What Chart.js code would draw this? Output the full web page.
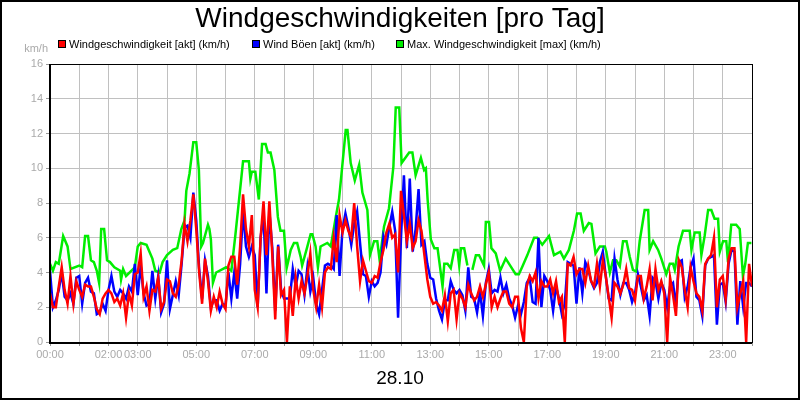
<!DOCTYPE html>
<html><head><meta charset="utf-8">
<script src="https://cdn.jsdelivr.net/npm/chart.js@4/dist/chart.umd.min.js"></script>
<style>html,body{margin:0;padding:0;background:#fff}canvas{display:block}</style>
</head><body>
<canvas id="c" width="800" height="400"></canvas>
<script>
const title = "Windgeschwindigkeiten [pro Tag]";
const dateLabel = "28.10";
const unitLabel = "km/h";
const seriesNames = ["Windgeschwindigkeit [akt] (km/h)", "Wind Böen [akt] (km/h)", "Max. Windgeschwindigkeit [max] (km/h)"];
const seriesColors = ["#ff0000", "#0000ff", "#00ee00"];
const labeledHours = [0,2,3,5,7,9,11,13,15,17,19,21,23];
const sampleStep = 0.1; // hours between samples of red/blue series

const windAkt = [
2.8,2.0,2.0,3.2,4.3,3.0,2.2,3.8,2.2,3.5, 3.0,2.6,3.3,3.2,3.2,2.6,1.9,1.6,2.5,2.8, 3.0,2.8,2.3,2.5,2.1,2.8,1.4,2.8,2.1,3.9,
4.0,5.1,2.6,3.2,1.8,3.0,2.9,3.7,1.9,2.3, 3.6,3.5,2.8,2.6,3.3,4.7,6.8,5.8,7.0,8.5, 6.5,4.0,2.2,4.8,3.5,1.8,2.6,2.0,2.9,2.2,
1.9,4.4,4.9,
4.9,3.3,5.5,8.5,6.5,5.5,7.3, 3.0,2.0,6.0,8.1,5.0,8.1,5.0,1.3,5.5,2.7, 3.0,0.0,3.2,1.5,3.7,2.5,3.5,2.8,3.8,5.1,
3.0,2.0,3.3,2.0,4.0,4.3,4.2,6.0,4.6,7.3, 6.3,7.0,6.4,6.0,8.0,5.5,3.5,4.7,4.1,3.5, 3.4,3.8,3.7,4.6,5.3,6.3,6.8,6.0,6.2,4.0,
8.7,7.3,5.8,6.8,5.4,5.8,7.0,6.4,
5.0,3.6, 2.6,2.2,2.3,2.1,1.8,2.7,1.2,2.8,3.0,1.3, 2.8,2.5,2.0,3.3,2.8,2.4,2.6,3.2,2.6,3.3, 4.0,2.0,2.6,2.0,2.5,2.9,2.9,2.2,2.0,2.6,
2.6,0.8,0.0,3.2,3.8,3.5,4.0,2.5,3.5,3.2, 3.2,3.6,2.8,3.5,2.3,2.6,0.0,4.5,4.4,4.9, 3.9,4.2,4.2,3.4,4.4,3.5,
3.2,4.5,3.2,4.7, 3.8,2.6,1.4,3.4,3.2,2.8,3.3,4.2,3.1,3.0, 2.4,3.8,3.8,2.5,3.2,4.2,2.4,4.2,3.0,3.5, 2.8,0.0,3.7,2.7,1.5,4.7,4.3,3.0,2.0,4.3,
3.5,2.8,2.6,1.8,4.5,4.8,5.0,6.0,2.0,3.6, 3.8,2.5,4.8,5.4,5.4,2.0,2.8,3.5,0.0,4.5, 3.2];

const windBoen = [
4.1,2.0,2.4,3.0,4.0,2.6,2.4,2.8,2.2,3.7, 3.8,2.2,3.4,3.7,2.9,2.8,1.6,1.7,2.2,1.8, 3.0,3.8,2.9,2.6,3.0,2.8,2.5,3.2,2.9,4.5,
2.7,4.4,2.8,2.1,2.2,4.1,2.5,3.8,1.7,2.2, 4.7,1.9,2.7,3.5,2.7,4.5,6.6,6.7,6.0,8.6, 7.0,4.2,2.5,4.7,3.8,2.0,2.4,2.4,1.8,2.2,
2.1,4.0,2.5,
4.0,2.5,4.5,7.5,5.5,4.9,5.5, 5.0,2.0,6.0,7.4,2.8,7.5,5.4,1.8,5.6,3.0, 2.5,2.5,2.5,4.2,3.2,4.1,3.9,2.7,4.3,2.9,
3.7,2.2,1.6,3.0,4.4,4.5,4.4,4.2,7.3,3.8, 6.5,7.4,6.6,5.6,6.8,7.5,5.7,3.9,3.8,2.6, 3.5,3.2,3.4,4.0,6.1,5.6,6.6,7.5,6.4,1.4,
6.0,9.6,5.4,9.4,5.2,6.5,8.8,5.6,
5.8,4.5, 3.7,3.6,2.5,1.8,1.3,2.4,2.4,3.5,3.0,2.8, 3.0,2.7,1.8,4.3,2.6,2.5,1.7,2.9,1.5,3.4, 4.2,2.8,3.0,2.9,3.7,2.8,3.3,2.5,2.1,1.4,
2.1,1.6,2.3,3.4,3.7,2.3,2.2,6.0,2.0,3.8, 3.5,3.0,1.8,3.2,2.5,1.6,2.2,4.6,4.5,4.4, 2.2,4.3,2.8,4.6,4.2,3.5,
3.1,3.4,4.6,5.2, 3.8,2.5,2.4,4.8,3.6,2.7,3.4,3.4,3.0,2.3, 2.8,3.9,3.2,2.4,2.7,1.5,3.7,3.5,2.5,3.4, 3.0,2.0,3.2,3.4,2.0,4.6,4.7,2.6,3.2,4.3,
4.8,2.6,2.4,1.5,4.4,4.8,4.9,5.0,1.0,3.3, 3.4,2.3,4.5,5.3,5.2,1.0,3.5,2.0,3.4,3.4, 3.2];

const maxHours = [0,0.1,0.2,0.3,0.45,0.6,0.7,1.0,1.1,1.2,1.3,1.4,1.5,1.6,1.68,1.75,1.85,1.95,2.05,2.2,2.4,2.43,2.5,2.6,2.9,3.0,3.1,3.3,3.4,3.5,3.6,3.75,3.85,4.0,4.2,4.35,
4.49,4.6,4.66,4.77,4.9,5.0,5.09,5.17,5.23,5.4,5.45,5.5,5.57,5.68,6.02,6.2,6.34,
6.6,6.8,6.85,6.9,7.02,7.14,7.25,7.37,7.45,7.54,7.67,7.79,7.88,8.0,8.09,8.23,8.34,8.45,8.57,8.62,8.8,8.91,8.97,9.08,9.16,9.25,9.48,9.6,9.77,9.88,9.99,10.11,10.17,10.28,10.42,10.57,10.68,10.85,10.94,11.08,11.19,11.27,11.42,11.59,11.74,11.82,11.94,12.02,12.28,12.39,12.5,12.68,12.79,
12.85,12.91,13.02,13.14,13.25,13.42,13.48,13.59,13.7,13.82,13.93,13.99,14.05,14.16,14.27,14.35,14.44,14.56,14.67,14.84,14.9,15.01,15.09,15.24,15.39,15.58,15.75,15.92,16.03,16.15,16.32,16.55,16.66,16.83,17.06,17.23,17.45,17.57,17.74,17.91,18.02,18.14,18.25,18.42,18.51,18.65,
18.8,18.97,19.02,19.14,19.25,19.36,19.48,19.59,19.71,19.82,19.93,20.05,20.16,20.33,20.45,20.5,20.62,20.79,20.9,21.07,21.19,21.3,21.36,21.49,21.64,21.87,21.93,22.04,22.21,22.27,22.38,22.5,22.61,22.72,22.84,22.9,23.01,23.12,23.18,23.29,23.46,23.58,23.69,23.77,23.86,23.98];
const maxValues = [4.5,4.1,4.6,4.5,6.1,5.5,4.2,4.4,4.3,6.1,6.1,4.7,4.6,4.1,3.4,6.5,6.5,4.7,4.6,4.3,4.1,3.6,4.2,3.8,4.3,5.5,5.7,5.6,5.2,4.8,4.1,4.0,4.6,5.0,5.3,5.4,
6.5,7.0,8.7,9.7,11.5,11.5,9.9,5.5,5.7,6.75,6.5,5.9,3.4,4.0,4.3,4.1,6.2,
10.4,10.4,9.4,9.8,9.8,8.2,11.4,11.4,10.9,10.9,9.9,7.2,6.4,6.4,4.25,5.3,5.7,5.7,4.9,4.4,5.5,6.2,6.2,5.5,4.3,5.5,5.7,5.5,7.2,8.2,10.1,12.2,12.2,10.3,9.3,10.2,8.6,7.6,5.0,5.8,5.8,4.7,6.65,7.7,10.1,13.5,13.5,10.3,10.9,10.9,9.6,10.6,9.9,
10.0,8.2,5.9,5.4,5.4,3.2,4.5,4.5,4.25,5.3,5.3,4.4,5.4,5.4,4.4,null,4.15,5.0,5.0,4.4,6.9,6.9,5.4,5.1,4.1,4.8,4.35,3.9,3.9,4.35,5.0,6.0,6.0,5.6,6.1,5.0,5.2,4.8,5.3,6.4,7.4,7.4,6.4,6.85,6.8,5.1,
5.5,5.5,5.2,4.0,4.7,4.7,4.35,5.8,5.8,4.9,4.15,4.05,5.8,7.6,7.6,5.3,5.8,5.3,4.8,3.9,4.5,4.5,4.15,5.5,6.4,6.4,5.3,6.3,6.3,5.0,6.1,7.6,7.6,7.1,7.1,5.2,5.8,5.8,4.6,6.75,6.75,6.5,3.8,4.5,5.7,5.7];

const yTicks = [0,2,4,6,8,10,12,14,16];

const ptsAkt = windAkt.map((v,i)=>({x:i*sampleStep,y:v}));
const ptsBoen = windBoen.map((v,i)=>({x:i*sampleStep,y:v}));
const ptsMax = maxHours.map((h,i)=>({x:h,y:maxValues[i]}));

const decor = {
  id:'decor',
  afterDraw(chart){
    const ctx = chart.ctx, a = chart.chartArea;
    ctx.save();
    ctx.strokeStyle='#000'; ctx.lineWidth=1;
    ctx.strokeRect(a.left+0.5,a.top+0.5,a.right-a.left,a.bottom-a.top);
    ctx.lineWidth=2;
    ctx.beginPath(); ctx.moveTo(a.left,a.top); ctx.lineTo(a.left,a.bottom+1); ctx.lineTo(a.right,a.bottom+1); ctx.stroke();
    ctx.lineWidth=2; ctx.strokeRect(1,1,798,398);
    ctx.fillStyle='#000'; ctx.textAlign='center'; ctx.textBaseline='middle';
    ctx.font='28px "Liberation Sans", Arial, sans-serif';
    ctx.fillText(title,400,19);
    ctx.font='19px "Liberation Sans", Arial, sans-serif';
    ctx.fillText(dateLabel,400,379);
    ctx.fillStyle='#aaa'; ctx.font='11px "Liberation Sans", Arial, sans-serif';
    ctx.textAlign='right'; ctx.fillText(unitLabel,48,49);
    ctx.textAlign='left'; ctx.font='11px "Liberation Sans", Arial, sans-serif';
    const lx=[58,252,396];
    seriesNames.forEach((n,i)=>{
      ctx.fillStyle=seriesColors[i]; ctx.fillRect(lx[i],40,8,8);
      ctx.strokeStyle='#000'; ctx.lineWidth=1; ctx.strokeRect(lx[i]+0.5,40.5,7,7);
      ctx.fillStyle='#000'; ctx.fillText(n,lx[i]+11,44.5);
    });
    ctx.restore();
  }
};

new Chart(document.getElementById('c'),{
  type:'line',
  data:{datasets:[
    {label:seriesNames[0],data:ptsAkt,borderColor:seriesColors[0],borderWidth:2.5,pointRadius:0,tension:0},
    {label:seriesNames[1],data:ptsBoen,borderColor:seriesColors[1],borderWidth:2.5,pointRadius:0,tension:0},
    {label:seriesNames[2],data:ptsMax,borderColor:seriesColors[2],borderWidth:2.5,pointRadius:0,tension:0,spanGaps:false}
  ]},
  options:{
    responsive:false,animation:false,
    layout:{padding:{left:0,right:48,top:64,bottom:0}},
    plugins:{legend:{display:false},title:{display:false},tooltip:{enabled:false}},
    scales:{
      x:{type:'linear',min:0,max:24,
        afterFit(s){s.height=58;},
        afterBuildTicks(s){s.ticks=Array.from({length:25},(_,i)=>({value:i}));},
        grid:{color:'#c0c0c0',tickLength:4,tickColor:'#999'},
        border:{display:false},
        ticks:{color:'#aaa',font:{size:11,family:'"Liberation Sans", Arial'},maxRotation:0,autoSkip:false,padding:2,
          callback:(v)=>labeledHours.includes(v)?String(v).padStart(2,'0')+':00':''}},
      y:{min:0,max:16,
        afterFit(s){s.width=50;},
        afterBuildTicks(s){s.ticks=yTicks.map(v=>({value:v}));},
        grid:{color:'#c0c0c0',tickLength:4,tickColor:'#999'},
        border:{display:false},
        ticks:{color:'#aaa',font:{size:11,family:'"Liberation Sans", Arial'},padding:3}}
    }
  },
  plugins:[decor]
});
</script>
</body></html>
